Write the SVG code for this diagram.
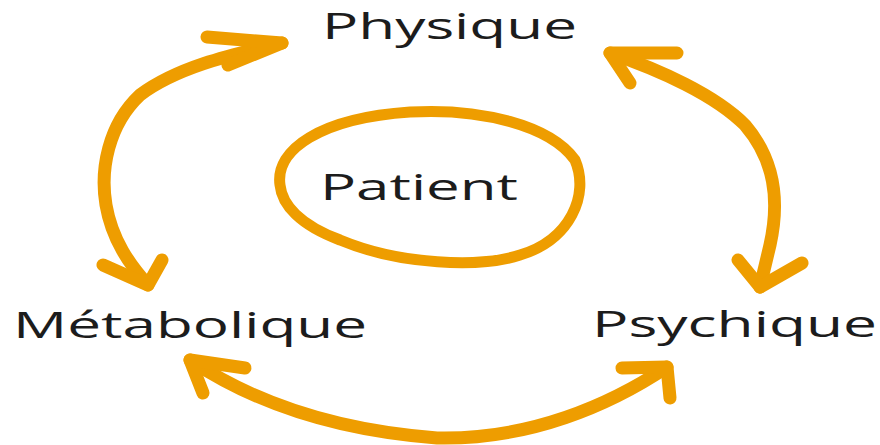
<svg xmlns="http://www.w3.org/2000/svg" width="880" height="445" viewBox="0 0 880 445">
  <style>
    .stroke { fill: none; stroke: #EE9D00; stroke-width: 13; stroke-linecap: round; stroke-linejoin: round; }
    .ring { fill: none; stroke: #EE9D00; stroke-width: 11; stroke-linecap: round; stroke-linejoin: round; }
    .label { font-family: "Open Sans", "Noto Sans", "DejaVu Sans", sans-serif; font-size: 36px; fill: #1c1c1c; }
  </style>
  <rect width="880" height="445" fill="#ffffff"/>

  <!-- hand-drawn double-headed arrows between the three aspects -->
  <g id="connectors">
    <!-- Physique <-> Métabolique -->
    <path class="stroke" d="M282,43 C240,53 180,65 140,95 C108,125 100,170 106,205 C112,240 130,265 148,285"/>
    <path class="stroke" d="M207,37 L282,43 L228,65"/>
    <path class="stroke" d="M103,265 L148,285 L162,260"/>
    <!-- Physique <-> Psychique -->
    <path class="stroke" d="M610,53 C660,70 715,95 745,125 C775,160 780,200 770,245 L760,287"/>
    <path class="stroke" d="M677,53 L610,53 L630,83"/>
    <path class="stroke" d="M738,260 L760,287 L802,263"/>
    <!-- Métabolique <-> Psychique -->
    <path class="stroke" d="M190,360 C250,400 330,430 437,438 C530,440 610,405 667,367"/>
    <path class="stroke" d="M245,368 L190,360 L203,393"/>
    <path class="stroke" d="M622,368 L667,367 L670,398"/>
  </g>

  <g id="patient">
    <path class="ring" d="M280,185 C275,150 320,118 410,112 C480,108 550,125 575,160 C590,195 570,240 520,255 C480,268 400,265 340,240 C300,225 282,205 280,185 Z"/>
    <text class="label" x="320" y="200" textLength="198" lengthAdjust="spacingAndGlyphs">Patient</text>
  </g>

  <g id="physique">
    <text class="label" x="322" y="39" textLength="255" lengthAdjust="spacingAndGlyphs">Physique</text>
  </g>

  <g id="metabolique">
    <text class="label" x="13" y="338" textLength="354" lengthAdjust="spacingAndGlyphs">Métabolique</text>
  </g>

  <g id="psychique">
    <text class="label" x="592" y="337" textLength="285" lengthAdjust="spacingAndGlyphs">Psychique</text>
  </g>
</svg>
